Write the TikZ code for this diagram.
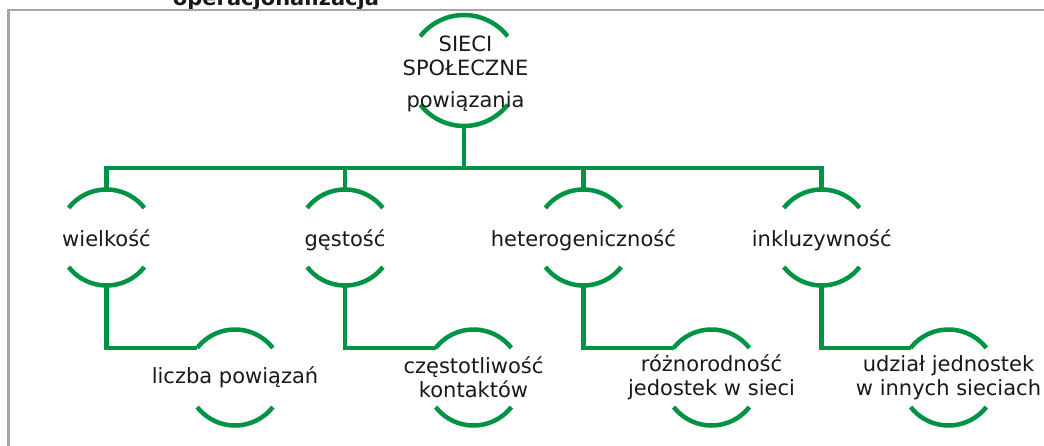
\documentclass[tikz,border=0pt]{standalone}
\usepackage{fontspec}
\setmainfont{DejaVu Sans}
\definecolor{leaf}{RGB}{0,146,69}
\definecolor{frame}{RGB}{166,166,166}
\begin{document}
\begin{tikzpicture}[
  x=1pt, y=1pt,
  font=\fontsize{21}{24}\selectfont,
  txt/.style={align=center, inner sep=0pt, text=black!90},
  hub/.style={circle, inner sep=0pt, outer sep=0pt, minimum size=111pt},
  ring/.style={circle, inner sep=0pt, outer sep=0pt, minimum size=96pt},
  rim/.style={draw=leaf, line width=4.5pt},
  link/.style={draw=leaf, line width=4.5pt},
]
\useasboundingbox (0,0) rectangle (1044,445);
\clip (0,0) rectangle (1044,445);

% ---------------- header and frame ----------------
\node[txt, font=\fontsize{21}{24}\selectfont\bfseries, anchor=base] (title) at (276,439) {operacjonalizacja};
\filldraw[fill=white, draw=frame, line width=2.5pt] (8.5,435) rectangle (1080,-30);

% ---------------- rings ----------------
\node[hub]  (root) at (464,374.5) {};
\node[ring] (wiel) at (106.5,207.5) {};
\node[ring] (gest) at (345.0,207.5) {};
\node[ring] (hete) at (583.3,207.5) {};
\node[ring] (inkl) at (821.7,207.5) {};
\node[ring] (licz) at (235.0,67.5) {};
\node[ring] (czes) at (473.5,67.5) {};
\node[ring] (rozn) at (711.5,67.5) {};
\node[ring] (udzi) at (948.5,67.5) {};

\foreach \n/\r in {root/55.5, wiel/48, gest/48, hete/48, inkl/48,
                   licz/48, czes/48, rozn/48, udzi/48} {
  \draw[rim] (\n.142) arc[start angle=142, end angle=38, radius=\r pt];
  \draw[rim] (\n.-38) arc[start angle=-38, end angle=-142, radius=\r pt];
}

% ---------------- texts ----------------
\node[txt] (root-t) at (465.5,371.6) {SIECI\\SPOŁECZNE\\[8pt]powiązania};
\node[txt, anchor=base] (wiel-t) at (106.5,198) {wielkość};
\node[txt, anchor=base] (gest-t) at (345.0,198) {gęstość};
\node[txt, anchor=base] (hete-t) at (583.3,198) {heterogeniczność};
\node[txt, anchor=base] (inkl-t) at (821.7,198) {inkluzywność};
\node[txt] (licz-t) at (licz) {liczba powiązań};
\node[txt] (czes-t) at (czes) {częstotliwość\\kontaktów};
\node[txt] (rozn-t) at (rozn) {różnorodność\\jedostek w sieci};
\node[txt] (udzi-t) at (udzi) {udział jednostek\\w innych sieciach};

% ---------------- connectors ----------------
\coordinate (bus) at (464,277);
\draw[link] (root.south) -- (bus);
\draw[link] (bus) -| (wiel.north);
\draw[link] (bus) -| (gest.north);
\draw[link] (bus) -| (hete.north);
\draw[link] (bus) -| (inkl.north);

\draw[link] (wiel.south) |- (licz.142);
\draw[link] (gest.south) |- (czes.142);
\draw[link] (hete.south) |- (rozn.142);
\draw[link] (inkl.south) |- (udzi.142);

\end{tikzpicture}
\end{document}
